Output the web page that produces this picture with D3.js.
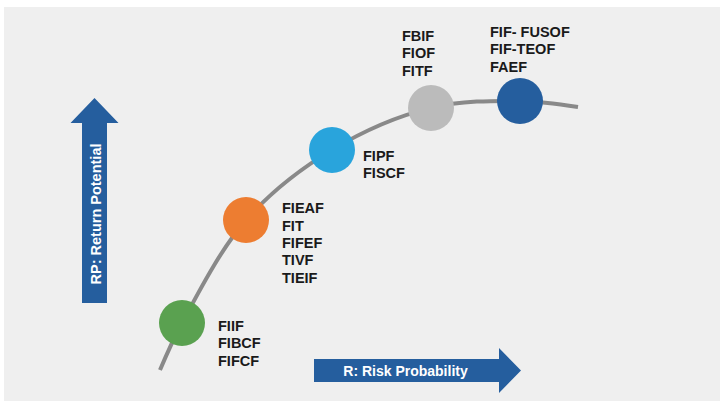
<!DOCTYPE html>
<html><head><meta charset="utf-8">
<script src="https://cdn.jsdelivr.net/npm/d3@7"></script>
<style>
html,body{margin:0;padding:0;background:#fff;}
svg{display:block;}
text{font-family:"Liberation Sans",Arial,sans-serif;font-weight:bold;}
</style></head>
<body>
<svg id="c" width="720" height="401"></svg>
<script>
// ---- data ----
const groups = ["G1", "G2", "G3", "G4", "G5"];
const riskValues = [16.4, 29.2, 46.4, 66.2, 84.0];      // x (risk probability)
const returnValues = [19.0, 53.3, 76.7, 90.7, 93.0];    // y (return potential)
const groupColors = ["#5AA150", "#ED7D31", "#29A4DC", "#BBBBBB", "#255E9E"];
const groupLabels = [
  ["FIIF", "FIBCF", "FIFCF"],
  ["FIEAF", "FIT", "FIFEF", "TIVF", "TIEIF"],
  ["FIPF", "FISCF"],
  ["FBIF", "FIOF", "FITF"],
  ["FIF- FUSOF", "FIF-TEOF", "FAEF"]
];
const curveStart = [12.0, 3.3];
const curveEnd = [95.6, 91.0];
const xAxisTitle = "R: Risk Probability";
const yAxisTitle = "RP: Return Potential";

// ---- layout ----
const svg = d3.select("#c");
svg.append("rect").attr("x", 4).attr("y", 7).attr("width", 716).attr("height", 394).attr("fill", "#EFEFEF");

const x = d3.scaleLinear().domain([0, 100]).range([100, 600]);
const y = d3.scaleLinear().domain([0, 100]).range([380, 80]);

// curve
const pts = [curveStart].concat(riskValues.map((r, i) => [r, returnValues[i]])).concat([curveEnd]);
const line = d3.line().x(d => x(d[0])).y(d => y(d[1])).curve(d3.curveCatmullRom.alpha(0.5));
svg.append("path").attr("d", line(pts)).attr("fill", "none").attr("stroke", "#898989").attr("stroke-width", 4);

// circles
svg.selectAll("circle.g").data(groups).enter().append("circle")
  .attr("cx", (d, i) => x(riskValues[i]))
  .attr("cy", (d, i) => y(returnValues[i]))
  .attr("r", 23)
  .attr("fill", (d, i) => groupColors[i]);

// labels: offset relative to circle
const labelOffsets = [[36, 8], [36, -7], [31, 11], [-29, -67], [-30, -64]];
const lh = 17.4;
groups.forEach((g, i) => {
  const t = svg.append("text")
    .attr("x", x(riskValues[i]) + labelOffsets[i][0])
    .attr("y", y(returnValues[i]) + labelOffsets[i][1])
    .attr("font-size", 14.5).attr("fill", "#1A1A1A");
  groupLabels[i].forEach((s, j) => {
    t.append("tspan").attr("x", x(riskValues[i]) + labelOffsets[i][0]).attr("dy", j === 0 ? 0 : lh).text(s);
  });
});

// up arrow (y axis)
const ua = {cx: 94.5, shaftW: 25, headW: 48, tip: 98, headBase: 123, bottom: 303};
svg.append("path").attr("fill", "#255E9E").attr("d",
  `M${ua.cx},${ua.tip} L${ua.cx + ua.headW/2},${ua.headBase} L${ua.cx + ua.shaftW/2},${ua.headBase} L${ua.cx + ua.shaftW/2},${ua.bottom} L${ua.cx - ua.shaftW/2},${ua.bottom} L${ua.cx - ua.shaftW/2},${ua.headBase} L${ua.cx - ua.headW/2},${ua.headBase} Z`);
svg.append("text").attr("transform", `translate(${ua.cx + 1.5},214) rotate(-90)`)
  .attr("text-anchor", "middle").attr("dominant-baseline", "central")
  .attr("font-size", 14.5).attr("fill", "#fff").text(yAxisTitle);

// right arrow (x axis)
const ra = {cy: 370.5, shaftH: 23, headH: 45, left: 314, headBase: 499, tip: 521};
svg.append("path").attr("fill", "#255E9E").attr("d",
  `M${ra.tip},${ra.cy} L${ra.headBase},${ra.cy - ra.headH/2} L${ra.headBase},${ra.cy - ra.shaftH/2} L${ra.left},${ra.cy - ra.shaftH/2} L${ra.left},${ra.cy + ra.shaftH/2} L${ra.headBase},${ra.cy + ra.shaftH/2} L${ra.headBase},${ra.cy + ra.headH/2} Z`);
svg.append("text").attr("x", 405.5).attr("y", ra.cy)
  .attr("text-anchor", "middle").attr("dominant-baseline", "central")
  .attr("font-size", 14).attr("fill", "#fff").text(xAxisTitle);
</script>
</body></html>
